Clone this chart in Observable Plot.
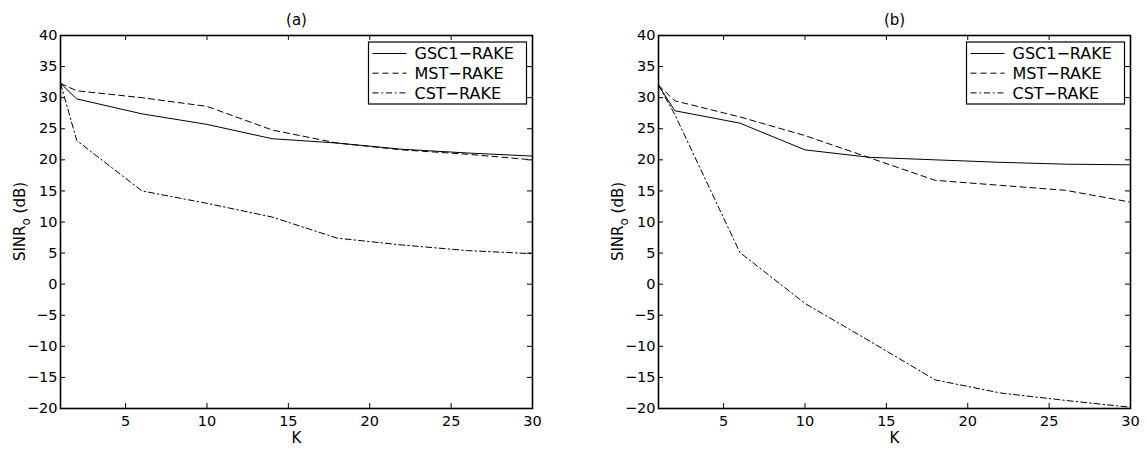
<!DOCTYPE html>
<html>
<head>
<meta charset="utf-8">
<script src="https://cdn.jsdelivr.net/npm/d3@7"></script>
<script src="https://cdn.jsdelivr.net/npm/@observablehq/plot@0.6"></script>
<style>
  body { margin: 0; background: #fff; }
  #chart { position: relative; width: 1147px; height: 450px; overflow: hidden; }
  #chart svg { position: absolute; top: 0; }
</style>
</head>
<body>
<div id="chart"></div>
<script>
// Number of users K at which the output SINR was evaluated
const K = [1, 2, 6, 10, 14, 18, 22, 26, 30];

// Receiver names, in legend order
const receivers = ["GSC1\u2212RAKE", "MST\u2212RAKE", "CST\u2212RAKE"];

// Panel (a): output SINR in dB
const gscA = [32.3, 29.8, 27.4, 25.7, 23.4, 22.7, 21.7, 21.1, 20.6];
const mstA = [32.3, 31.1, 30.0, 28.6, 24.8, 22.7, 21.6, 20.9, 20.0];
const cstA = [32.3, 23.1, 15.0, 13.0, 10.8, 7.4, 6.3, 5.4, 4.9];

// Panel (b): output SINR in dB
const gscB = [32.0, 27.9, 25.9, 21.6, 20.4, 20.0, 19.6, 19.3, 19.2];
const mstB = [32.0, 29.5, 26.9, 23.9, 20.3, 16.7, 15.9, 15.1, 13.2];
const cstB = [32.0, 27.3, 5.1, -3.1, -9.2, -15.4, -17.5, -18.7, -19.8];

const panelTitles = ["(a)", "(b)"];
const xTicks = [5, 10, 15, 20, 25, 30];
const yTicks = [-20, -15, -10, -5, 0, 5, 10, 15, 20, 25, 30, 35, 40];
const xLabel = "K";

// Drawing style
const FONT = "'DejaVu Sans', 'Liberation Sans', Arial, sans-serif";
const DASHES = [null, "6,4", "6,3,1.5,3"];
const TICK = 5;

// Rotated y-axis title with the subscript "o" on SINR
function yTitle(offset) {
  return (index, scales, values, dim) => {
    const cy = dim.marginTop + (dim.height - dim.marginTop - dim.marginBottom) / 2;
    const t = d3.create("svg:text")
      .attr("transform", `translate(${dim.marginLeft - offset},${cy}) rotate(-90)`)
      .attr("text-anchor", "middle")
      .attr("font-size", 15)
      .attr("fill", "black");
    t.append("tspan").text("SINR");
    t.append("tspan").attr("dy", 5).attr("font-size", 12).text("o");
    t.append("tspan").attr("dy", -5).text(" (dB)");
    return t.node();
  };
}

// Boxed legend in the upper-right corner of the frame
function legendBox() {
  return (index, scales, values, dim) => {
    const w = 158, rowH = 19.7, h = 62;
    const x0 = dim.width - dim.marginRight - 5.5 - w;
    const y0 = dim.marginTop + 7;
    const g = d3.create("svg:g").attr("transform", `translate(${x0},${y0})`);
    g.append("rect").attr("width", w).attr("height", h)
      .attr("fill", "white").attr("stroke", "black").attr("stroke-width", 1.2);
    receivers.forEach((name, i) => {
      const y = 11.5 + rowH * i;
      g.append("line").attr("x1", 4).attr("x2", 38).attr("y1", y).attr("y2", y)
        .attr("stroke", "black").attr("stroke-width", 1)
        .attr("stroke-dasharray", DASHES[i]);
      g.append("text").attr("x", 46).attr("y", y).attr("dy", "0.36em")
        .attr("text-anchor", "start")
        .attr("font-size", 16).attr("fill", "black").text(name);
    });
    return g.node();
  };
}

function panel(title, series, width, marginLeft, marginRight) {
  const height = 450, marginTop = 35, marginBottom = 42;
  const innerW = width - marginLeft - marginRight;
  const innerH = height - marginTop - marginBottom;
  return Plot.plot({
    width, height, marginLeft, marginRight, marginTop, marginBottom,
    style: { fontFamily: FONT, fontSize: "14.5px", color: "black", background: "transparent", overflow: "visible" },
    x: { type: "linear", domain: [1, 30] },
    y: { type: "linear", domain: [-20, 40] },
    marks: [
      ...series.map((vals, s) =>
        Plot.line(K.map((k, i) => ({ k, v: vals[i] })), {
          x: "k", y: "v", stroke: "black", strokeWidth: 1,
          strokeDasharray: DASHES[s], strokeLinejoin: "miter"
        })
      ),
      // tick marks pointing inwards on all four sides
      Plot.tickX(xTicks, { x: d => d, insetTop: innerH - TICK, stroke: "black" }),
      Plot.tickX(xTicks, { x: d => d, insetBottom: innerH - TICK, stroke: "black" }),
      Plot.tickY(yTicks, { y: d => d, insetRight: innerW - TICK, stroke: "black" }),
      Plot.tickY(yTicks, { y: d => d, insetLeft: innerW - TICK, stroke: "black" }),
      Plot.frame({ stroke: "black", strokeWidth: 1.6 }),
      Plot.axisX(xTicks, { tickSize: 0, tickPadding: 7, label: null }),
      Plot.axisY(yTicks, { tickSize: 0, tickPadding: 3, label: null }),
      Plot.text([title], { frameAnchor: "top", dy: -21, fontSize: 15 }),
      Plot.text([xLabel], { frameAnchor: "bottom", dy: 34, fontSize: 15 }),
      yTitle(35),
      legendBox()
    ]
  });
}

const chart = document.getElementById("chart");
const left = panel(panelTitles[0], [gscA, mstA, cstA], 573, 60, 41);
left.style.left = "0px";
const right = panel(panelTitles[1], [gscB, mstB, cstB], 574, 85, 17);
right.style.left = "573px";
chart.append(left, right);
</script>
</body>
</html>
